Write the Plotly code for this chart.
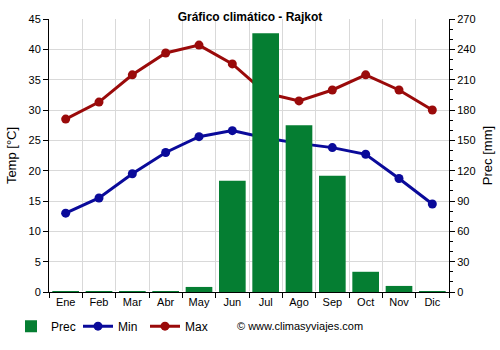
import plotly.graph_objects as go

months = ["Ene", "Feb", "Mar", "Abr", "May", "Jun", "Jul", "Ago", "Sep", "Oct", "Nov", "Dic"]
prec = [0.5, 0.5, 0.5, 0.5, 5, 110, 256, 165, 115, 20, 6, 0.5]
tmin = [13.0, 15.5, 19.5, 23.0, 25.6, 26.6, 25.4, 24.5, 23.8, 22.7, 18.7, 14.5]
tmax = [28.5, 31.3, 35.8, 39.4, 40.7, 37.6, 32.8, 31.5, 33.3, 35.8, 33.3, 30.0]

fig = go.Figure()
fig.add_trace(go.Bar(x=months, y=prec, name="Prec", marker_color="#057e32",
                     marker_line_width=0, width=0.8, yaxis="y2"))
fig.add_trace(go.Scatter(x=months, y=tmin, name="Min", mode="lines+markers",
                         line=dict(color="#0a0a9a", width=3), marker=dict(size=9)))
fig.add_trace(go.Scatter(x=months, y=tmax, name="Max", mode="lines+markers",
                         line=dict(color="#9a0a0a", width=3), marker=dict(size=9)))

font = dict(family="Liberation Sans, Arial, sans-serif", size=11, color="#000")
fig.update_layout(
    width=500, height=350,
    margin=dict(l=49, r=51, t=19, b=58, autoexpand=False),
    paper_bgcolor="white", plot_bgcolor="white",
    font=font,
    title=dict(text="<b>Gráfico climático - Rajkot</b>", x=0.5, xanchor="center",
               y=0.951, yanchor="middle", font=dict(size=12)),
    xaxis=dict(tickson="boundaries", showgrid=True, gridcolor="#d9d9d9",
               ticks="outside", ticklen=5, tickcolor="#000",
               showline=True, linecolor="#000", linewidth=1, range=[-0.5, 11.5]),
    yaxis=dict(range=[0, 45], dtick=5, showgrid=True, gridcolor="#d9d9d9",
               ticks="outside", ticklen=5, tickcolor="#000",
               showline=True, linecolor="#000", zeroline=True, zerolinecolor="#000",
               zerolinewidth=2,
               title=dict(text="Temp [°C]", standoff=8)),
    yaxis2=dict(range=[0, 270], dtick=30, overlaying="y", side="right",
                showgrid=False, ticks="outside", ticklen=5, tickcolor="#000",
                showline=True, linecolor="#000",
                minor=dict(dtick=10, ticks="outside", ticklen=3, tickcolor="#000"),
                title=dict(text="Prec [mm]", standoff=8)),
    legend=dict(orientation="h", x=-0.095, y=-0.125, xanchor="left", yanchor="middle",
                font=dict(size=12), entrywidth=22, entrywidthmode="pixels",
                itemwidth=30, tracegroupgap=0),
    bargap=0.2,
)
fig.add_annotation(text="© www.climasyviajes.com", xref="paper", yref="paper",
                   x=0.465, y=-0.125, xanchor="left", yanchor="middle",
                   showarrow=False, font=dict(size=11))
fig.write_html("out.html")
